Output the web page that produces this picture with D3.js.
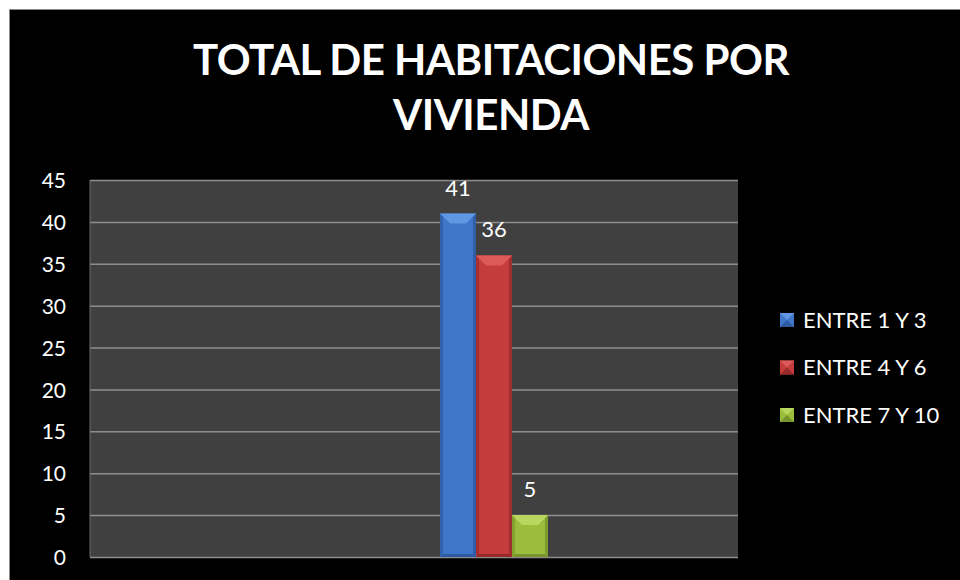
<!DOCTYPE html>
<html>
<head>
<meta charset="utf-8">
<script src="https://cdn.jsdelivr.net/npm/d3@7"></script>
<style>
  html, body { margin: 0; padding: 0; background: #ffffff; }
  svg { display: block; }
</style>
</head>
<body>
<script>
// Chart data
const titleLines = ["TOTAL DE HABITACIONES POR", "VIVIENDA"];
const seriesNames = ["ENTRE 1 Y 3", "ENTRE 4 Y 6", "ENTRE 7 Y 10"];
const seriesValues = [41, 36, 5];
const seriesColors = ["#3f76c9", "#c43c3c", "#9bbd3d"];
const seriesLight = ["#5f97e3", "#dc5a5a", "#b7d75e"];
const seriesDark = ["#2d5aa0", "#982a2a", "#77952a"];
const yTicks = [0, 5, 10, 15, 20, 25, 30, 35, 40, 45];

const W = 960, H = 580;
const font = "Lato, 'Open Sans', sans-serif";

const svg = d3.select("body").append("svg")
  .attr("width", W).attr("height", H);

// frame: white page margin with thin grey edge, black chart area
svg.append("rect").attr("x", 0).attr("y", 0).attr("width", W).attr("height", H).attr("fill", "#ffffff");
svg.append("rect").attr("x", 9.5).attr("y", 9.5).attr("width", W).attr("height", H)
  .attr("fill", "#000000").attr("stroke", "#8a8a8a").attr("stroke-width", 1);

// plot area
const plot = { left: 90, right: 738, top: 180, bottom: 557 };
const y = d3.scaleLinear().domain([0, 45]).range([plot.bottom, plot.top]);
const x = d3.scaleBand().domain(seriesNames).range([440, 548]).padding(0);

svg.append("rect")
  .attr("x", plot.left).attr("y", plot.top)
  .attr("width", plot.right - plot.left).attr("height", plot.bottom - plot.top)
  .attr("fill", "#404040");

// gridlines + y labels via axis
const yAxis = d3.axisLeft(y).tickValues(yTicks).tickSize(-(plot.right - plot.left)).tickPadding(24);
const gy = svg.append("g").attr("transform", `translate(${plot.left},0)`).call(yAxis);
gy.select(".domain").remove();
gy.selectAll(".tick line").attr("stroke", "#8e8e8e").attr("stroke-width", 1.5);
gy.selectAll(".tick text")
  .attr("fill", "#ffffff").attr("font-family", font).attr("font-size", 21)
  .attr("dy", "0.36em");

// left edge of the plot area
svg.append("line").attr("x1", plot.left).attr("x2", plot.left).attr("y1", plot.top).attr("y2", plot.bottom)
  .attr("stroke", "#6a6a6a").attr("stroke-width", 1);

// bevelled bars
const bev = 10;
const bars = svg.append("g").selectAll("g").data(seriesNames).join("g");
bars.each(function (name, i) {
  const g = d3.select(this);
  const x0 = x(name), x1 = x0 + x.bandwidth();
  const top = y(seriesValues[i]), bot = y(0);
  g.append("rect").attr("x", x0).attr("y", top).attr("width", x1 - x0).attr("height", bot - top)
    .attr("fill", seriesColors[i]);
  // side shading
  g.append("polygon").attr("points", [[x0, top], [x0 + 3, top + 3], [x0 + 3, bot - 3], [x0, bot]].join(" "))
    .attr("fill", seriesDark[i]).attr("opacity", 0.7);
  g.append("polygon").attr("points", [[x1, top], [x1 - 3, top + 3], [x1 - 3, bot - 3], [x1, bot]].join(" "))
    .attr("fill", seriesDark[i]).attr("opacity", 0.8);
  // bottom chamfer
  g.append("polygon").attr("points", [[x0, bot], [x1, bot], [x1 - 3, bot - 3], [x0 + 3, bot - 3]].join(" "))
    .attr("fill", seriesDark[i]);
  // top chamfer
  g.append("polygon").attr("points", [[x0, top], [x1, top], [x1 - bev, top + bev], [x0 + bev, top + bev]].join(" "))
    .attr("fill", seriesLight[i]);
  // value label
  g.append("text")
    .attr("x", (x0 + x1) / 2).attr("y", top - 18)
    .attr("text-anchor", "middle")
    .attr("fill", "#ffffff").attr("font-family", font).attr("font-size", 22)
    .text(seriesValues[i]);
});

// title
svg.append("g").selectAll("text").data(titleLines).join("text")
  .attr("x", 491).attr("y", (d, i) => 75 + i * 55)
  .attr("text-anchor", "middle")
  .attr("fill", "#ffffff").attr("font-family", font).attr("font-weight", 700)
  .attr("font-size", 42).attr("letter-spacing", -0.5)
  .text(d => d);

// legend
const leg = svg.append("g").selectAll("g").data(seriesNames).join("g")
  .attr("transform", (d, i) => `translate(780, ${320 + i * 47.5})`);
leg.each(function (name, i) {
  const g = d3.select(this);
  const s = 14, h = s / 2;
  g.append("rect").attr("x", 0).attr("y", -h).attr("width", s).attr("height", s).attr("fill", seriesColors[i]);
  g.append("polygon").attr("points", [[0, -h], [s, -h], [h, 0]].join(" ")).attr("fill", seriesLight[i]);
  g.append("polygon").attr("points", [[0, h], [s, h], [h, 0]].join(" ")).attr("fill", seriesDark[i]);
  g.append("text").attr("x", 23).attr("y", 0).attr("dy", "0.36em")
    .attr("fill", "#ffffff").attr("font-family", font).attr("font-size", 22)
    .text(name);
});
</script>
</body>
</html>
